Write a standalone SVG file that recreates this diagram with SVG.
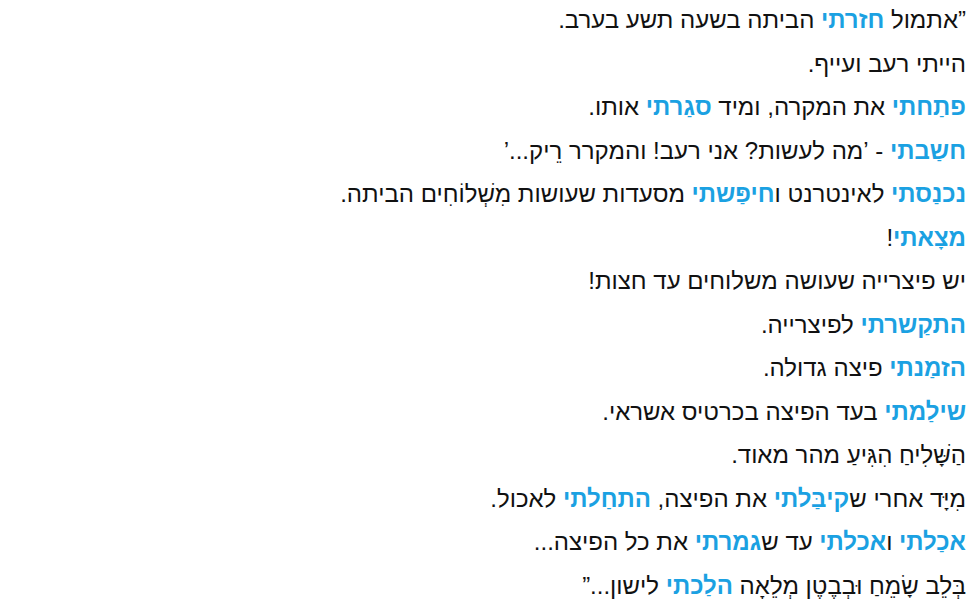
<svg xmlns="http://www.w3.org/2000/svg" width="969" height="607" viewBox="0 0 969 607">
<style>
text{font-family:"Liberation Sans","DejaVu Sans",sans-serif;font-size:24px;fill:#111;direction:rtl;text-anchor:start}
.b{fill:#1ba1e2;font-weight:bold}
</style>
<rect width="969" height="607" fill="#fff"/>
<g id="text">
<text x="966" y="28">”אתמול <tspan class="b">חזרתי</tspan> הביתה בשעה תשע בערב.</text>
<text x="966" y="72">הייתי רעב ועייף.</text>
<text x="966" y="115"><tspan class="b">פתַחתי</tspan> את המקרה, ומיד <tspan class="b">סגַרתי</tspan> אותו.</text>
<text x="966" y="159"><tspan class="b">חשַבתי</tspan> - ’מה לעשות? אני רעב! והמקרר רֵיק...’</text>
<text x="966" y="202"><tspan class="b">נכנַסתי</tspan> לאינטרנט ו<tspan class="b">חיפַּשתי</tspan> מסעדות שעושות מִשְׁלוֹחִים הביתה.</text>
<text x="966" y="246"><tspan class="b">מצָאתי</tspan>!</text>
<text x="966" y="289">יש פיצרייה שעושה משלוחים עד חצות!</text>
<text x="966" y="333"><tspan class="b">התקַשרתי</tspan> לפיצרייה.</text>
<text x="966" y="376"><tspan class="b">הזמַנתי</tspan> פיצה גדולה.</text>
<text x="966" y="420"><tspan class="b">שילַמתי</tspan> בעד הפיצה בכרטיס אשראי.</text>
<text x="966" y="463">הַשָּׁלִיחַ הִגִּיעַ מהר מאוד.</text>
<text x="966" y="507">מִיָּד אחרי ש<tspan class="b">קיבַּלתי</tspan> את הפיצה, <tspan class="b">התחַלתי</tspan> לאכול.</text>
<text x="966" y="550"><tspan class="b">אכַלתי</tspan> ו<tspan class="b">אכלתי</tspan> עד ש<tspan class="b">גמרתי</tspan> את כל הפיצה...</text>
<text x="966" y="594">בְּלֵב שָׂמֵחַ וּבְבֶטֶן מְלֵאָה <tspan class="b">הלַכתי</tspan> לישון...”</text>
</g>
</svg>
